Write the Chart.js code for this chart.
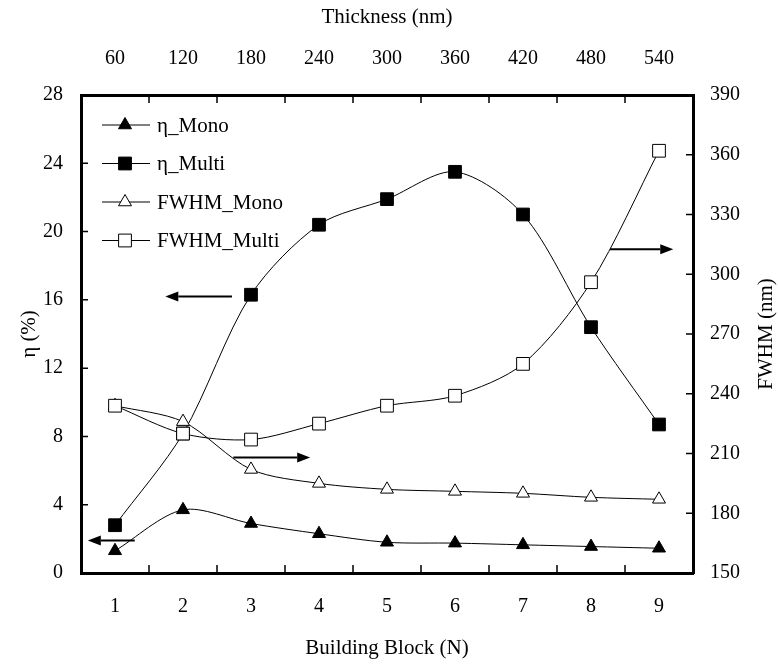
<!DOCTYPE html>
<html>
    <head>
        <title>Building Block</title>
        <meta charset="utf-8" />
        <script src="https://cdn.jsdelivr.net/npm/chart.js@4.4.0/dist/chart.umd.min.js"></script>
        <style>
            * {
                margin: 0;
                padding: 0;
                box-sizing: border-box;
            }
            body {
                background-color: #ffffff;
            }
            #wrap {
                width: 778px;
                height: 666px;
            }
        </style>
    </head>
    <body>

        <div id="wrap">
            <canvas id="myChart" width="778" height="666"></canvas>
        </div>

        <script>
            // bottom axis: building blocks, top axis: thickness (nm)
            const blocks = ['1', '2', '3', '4', '5', '6', '7', '8', '9'];
            const thickness = ['60', '120', '180', '240', '300', '360', '420', '480', '540'];

            // efficiency (%) - left axis
            const etaMono = [1.3, 3.7, 2.9, 2.3, 1.8, 1.75, 1.65, 1.55, 1.45];
            const etaMulti = [2.8, 8.17, 16.3, 20.4, 21.9, 23.5, 21.0, 14.4, 8.7];

            // FWHM (nm) - right axis
            const fwhmMono = [234, 226, 202, 195, 192, 191, 190, 188, 187];
            const fwhmMulti = [234, 220, 217, 225, 234, 239, 255, 296, 362];

            // arrows showing which axis a curve belongs to: [N from, N to, value, axis]
            const arrows = [
                [1.29, 0.60, 1.9, 'y'],
                [2.72, 1.74, 16.2, 'y'],
                [2.74, 3.87, 208, 'y2'],
                [8.28, 9.21, 312.5, 'y2']
            ];

            const serif = '"Liberation Serif", "Times New Roman", serif';
            Chart.defaults.font.family = serif;
            Chart.defaults.font.size = 20;
            Chart.defaults.color = '#000000';

            function lineSet(label, values, axis, style, filled, order) {
                return {
                    label: label,
                    data: values,
                    yAxisID: axis,
                    borderColor: '#000000',
                    borderWidth: 1,
                    backgroundColor: filled ? '#000000' : '#ffffff',
                    pointStyle: style,
                    pointRadius: style === 'rect' ? 9 : 7.5,
                    pointBorderWidth: 1,
                    pointBorderColor: '#000000',
                    pointBackgroundColor: filled ? '#000000' : '#ffffff',
                    tension: 0.3,
                    order: order
                };
            }

            const data = {
                labels: blocks,
                datasets: [
                    lineSet('\u03b7_Mono', etaMono, 'y', 'triangle', true, 4),
                    lineSet('\u03b7_Multi', etaMulti, 'y', 'rect', true, 3),
                    lineSet('FWHM_Mono', fwhmMono, 'y2', 'triangle', false, 2),
                    lineSet('FWHM_Multi', fwhmMulti, 'y2', 'rect', false, 1)
                ]
            };

            function marker(ctx, style, filled, x, y) {
                ctx.beginPath();
                if (style === 'rect') {
                    ctx.rect(x - 6.4, y - 6.4, 12.8, 12.8);
                } else {
                    const r = 7.5;
                    ctx.moveTo(x, y - r);
                    ctx.lineTo(x + r * 0.866, y + r * 0.5);
                    ctx.lineTo(x - r * 0.866, y + r * 0.5);
                    ctx.closePath();
                }
                ctx.fillStyle = filled ? '#000000' : '#ffffff';
                ctx.fill();
                ctx.lineWidth = 1;
                ctx.strokeStyle = '#000000';
                ctx.stroke();
            }

            function arrow(ctx, x1, y, x2) {
                const dir = x2 > x1 ? 1 : -1;
                const head = 13;
                ctx.beginPath();
                ctx.moveTo(x1, y);
                ctx.lineTo(x2 - dir * head, y);
                ctx.lineWidth = 2;
                ctx.stroke();
                ctx.beginPath();
                ctx.moveTo(x2, y);
                ctx.lineTo(x2 - dir * head, y - 5);
                ctx.lineTo(x2 - dir * head, y + 5);
                ctx.closePath();
                ctx.fill();
            }

            const extras = {
                id: 'extras',
                afterDraw(chart) {
                    const ctx = chart.ctx;
                    const a = chart.chartArea;
                    const sc = chart.scales;
                    ctx.save();
                    ctx.strokeStyle = '#000000';
                    ctx.fillStyle = '#000000';

                    // tick marks pointing inwards
                    ctx.lineWidth = 1.5;
                    ctx.beginPath();
                    sc.y.ticks.forEach((t, i) => {
                        const p = sc.y.getPixelForTick(i);
                        ctx.moveTo(a.left, p);
                        ctx.lineTo(a.left + 7, p);
                    });
                    sc.y2.ticks.forEach((t, i) => {
                        const p = sc.y2.getPixelForTick(i);
                        ctx.moveTo(a.right, p);
                        ctx.lineTo(a.right - 7, p);
                    });
                    for (let i = 1; i < blocks.length; i++) {
                        const p = sc.x.getPixelForValue(i - 0.5);
                        ctx.moveTo(p, a.bottom);
                        ctx.lineTo(p, a.bottom - 8);
                        ctx.moveTo(p, a.top);
                        ctx.lineTo(p, a.top + 8);
                    }
                    ctx.stroke();

                    // arrows
                    arrows.forEach(ar => {
                        const x1 = sc.x.getPixelForValue(ar[0] - 1);
                        const x2 = sc.x.getPixelForValue(ar[1] - 1);
                        const y = sc[ar[3]].getPixelForValue(ar[2]);
                        arrow(ctx, x1, y, x2);
                    });

                    // legend inside the plot
                    ctx.font = '21px ' + serif;
                    ctx.textAlign = 'left';
                    ctx.textBaseline = 'middle';
                    chart.data.datasets.forEach((ds, i) => {
                        const y = a.top + 30 + i * 38.5;
                        ctx.beginPath();
                        ctx.moveTo(a.left + 21, y);
                        ctx.lineTo(a.left + 69, y);
                        ctx.lineWidth = 1;
                        ctx.strokeStyle = '#000000';
                        ctx.stroke();
                        marker(ctx, ds.pointStyle, ds.backgroundColor === '#000000', a.left + 44, y);
                        ctx.fillStyle = '#000000';
                        ctx.fillText(ds.label, a.left + 76, y + 1);
                    });

                    // right axis title, reading bottom to top
                    ctx.translate(766, (a.top + a.bottom) / 2);
                    ctx.rotate(-Math.PI / 2);
                    ctx.textAlign = 'center';
                    ctx.fillText('FWHM (nm)', 0, 0);
                    ctx.restore();
                }
            };

            const chartConfig = {
                type: 'line',
                data,
                options: {
                    responsive: false,
                    animation: false,
                    devicePixelRatio: 1,
                    layout: { padding: 0 },
                    plugins: {
                        legend: { display: false },
                        tooltip: { enabled: false }
                    },
                    scales: {
                        x: {
                            type: 'category',
                            position: 'bottom',
                            offset: true,
                            grid: { display: false, drawTicks: false },
                            border: { display: true, width: 3, color: '#000000' },
                            ticks: { padding: 22, maxRotation: 0 },
                            title: {
                                display: true,
                                text: 'Building Block (N)',
                                font: { size: 21 },
                                padding: { top: 0, bottom: 5 }
                            },
                            afterFit: s => { s.height = 93; }
                        },
                        x2: {
                            type: 'category',
                            position: 'top',
                            labels: thickness,
                            offset: true,
                            grid: { display: false, drawTicks: false },
                            border: { display: true, width: 3, color: '#000000' },
                            ticks: { padding: 24, maxRotation: 0 },
                            title: {
                                display: true,
                                text: 'Thickness (nm)',
                                font: { size: 21 },
                                padding: { top: 5, bottom: 0 }
                            },
                            afterFit: s => { s.height = 95; }
                        },
                        y: {
                            position: 'left',
                            min: 0,
                            max: 28,
                            ticks: { stepSize: 4, padding: 18 },
                            grid: { display: false, drawTicks: false },
                            border: { display: true, width: 3, color: '#000000' },
                            title: {
                                display: true,
                                text: '\u03b7 (%)',
                                font: { size: 21 },
                                padding: { top: 17, bottom: 0 }
                            },
                            afterFit: s => { s.width = 81; }
                        },
                        y2: {
                            position: 'right',
                            min: 150,
                            max: 390,
                            ticks: { stepSize: 30, padding: 17 },
                            grid: { display: false, drawTicks: false },
                            border: { display: true, width: 3, color: '#000000' },
                            afterFit: s => { s.width = 85; }
                        }
                    }
                },
                plugins: [extras]
            };

            const myChart = new Chart(
                document.getElementById('myChart'),
                chartConfig
            );
        </script>
    </body>
</html>
